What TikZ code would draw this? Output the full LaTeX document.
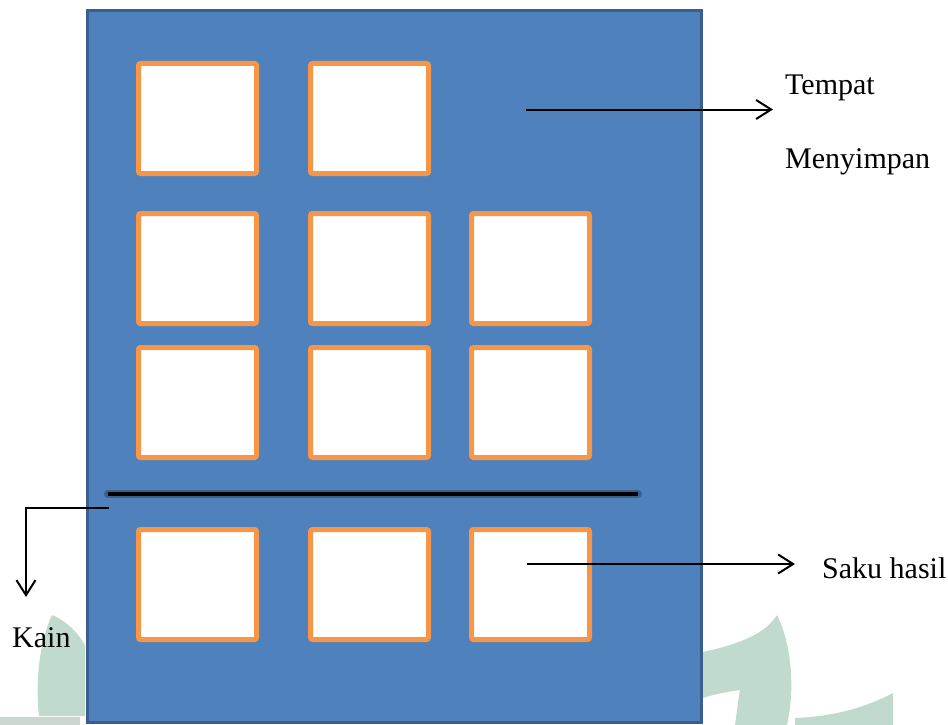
\documentclass[tikz,border=0pt]{standalone}
\usepackage{fontspec}
\setmainfont{Liberation Serif}
\usetikzlibrary{arrows.meta}
\definecolor{panelblue}{HTML}{4F81BD}
\definecolor{paneledge}{HTML}{3A5F8E}
\definecolor{pocketorange}{HTML}{F79646}
\definecolor{wmgreen}{HTML}{C0DBCE}
\definecolor{wmgray}{HTML}{CCD6D1}
\tikzset{
  pocket/.style={draw=pocketorange, fill=white, line width=5pt, rounded corners=2pt,
    minimum width=118pt, minimum height=110pt, inner sep=0pt},
  label/.style={inner sep=0pt, anchor=base west, font=\fontsize{30}{36}\selectfont},
  pointer/.style={line width=2pt, -{Straight Barb[length=15pt,width=19pt]}},
}
\begin{document}
\begin{tikzpicture}[x=1pt,y=-1pt]
\useasboundingbox (0,0) rectangle (948,725);
% faint watermark
\fill[wmgreen] (85,645) .. controls (75,628) and (62,619) .. (52,615)
  .. controls (40,640) and (35,680) .. (39,716) -- (85,716) -- cycle;
\fill[wmgray] (0,717) rectangle (80,725);
\fill[wmgreen] (703,652) .. controls (735,645) and (765,635) .. (777,615)
  .. controls (792,645) and (795,690) .. (787,725) -- (735,725)
  .. controls (737,712) and (738,700) .. (740,690)
  .. controls (725,692) and (712,695) .. (703,698) -- cycle;
\fill[wmgreen] (893,693) .. controls (870,705) and (840,716) .. (795,718)
  -- (795,725) -- (893,725) -- cycle;
% panel
\draw[draw=paneledge, fill=panelblue, line width=3pt] (87.5,10.5) rectangle (701.5,722.5);
% pockets
\node[pocket] (p11) at (197.5,118.5) {};
\node[pocket] (p12) at (369.5,118.5) {};
\node[pocket] (p21) at (197.5,268.5) {};
\node[pocket] (p22) at (369.5,268.5) {};
\node[pocket] (p23) at (530.5,268.5) {};
\node[pocket] (p31) at (197.5,402.5) {};
\node[pocket] (p32) at (369.5,402.5) {};
\node[pocket] (p33) at (530.5,402.5) {};
\node[pocket] (p41) at (197.5,584.5) {};
\node[pocket] (p42) at (369.5,584.5) {};
\node[pocket] (p43) at (530.5,584.5) {};
% dividing line
\coordinate (d0) at (108,494);
\coordinate (d1) at (638,494);
\draw[black, opacity=0.25, line width=8pt, line cap=round] (d0) -- (d1);
\draw[black, line width=4pt] (d0) -- (d1);
% labels
\node[label] (tempat) at (785,95) {Tempat};
\node[label] (menyimpan) at (785,168) {Menyimpan};
\node[label] (saku) at (822,578) {Saku hasil};
\node[label] (kain) at (12,647) {Kain};
% pointers
\coordinate (t0) at (526,109.5);
\coordinate (t1) at (773,109.5);
\draw[pointer] (t0) -- (t1);
\coordinate (s0) at (527,564);
\coordinate (s1) at (795,564);
\draw[pointer] (s0) -- (s1);
\coordinate (k0) at (109,508);
\coordinate (k1) at (26,508);
\coordinate (k2) at (26,597);
\draw[pointer] (k0) -- (k1) -- (k2);
\end{tikzpicture}
\end{document}
